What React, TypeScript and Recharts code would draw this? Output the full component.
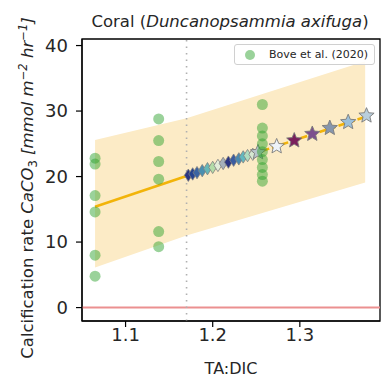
import React from 'react';
import {
  ComposedChart,
  XAxis,
  YAxis,
  Area,
  Line,
  Scatter,
  ReferenceLine,
  ReferenceArea,
  Cell,
} from 'recharts';

// ---- Data ----
const boveTA = [
  1.065, 1.065, 1.065, 1.065, 1.065, 1.065,
  1.138, 1.138, 1.138, 1.138, 1.138, 1.138,
  1.257, 1.257, 1.257, 1.257, 1.257, 1.257, 1.257, 1.257, 1.257,
];
const boveRate = [
  22.8, 21.9, 17.1, 14.6, 8.0, 4.8,
  28.8, 25.5, 22.3, 19.6, 11.6, 9.3,
  31.0, 27.4, 26.2, 25.0, 23.8, 22.6, 21.4, 20.3, 19.3,
];

const diamondTA = [
  1.172, 1.177, 1.182, 1.188, 1.194, 1.2, 1.206,
  1.212, 1.218, 1.224, 1.23, 1.235, 1.24, 1.246,
];
const diamondRate = [
  20.2, 20.4, 20.6, 20.9, 21.2, 21.4, 21.7,
  22.0, 22.2, 22.5, 22.7, 23.0, 23.2, 23.4,
];
const diamondColors = [
  '#2b3580', '#24438f', '#3a64a2', '#4a8fb0', '#66b8b8', '#b3dca8', '#e2ecd9',
  '#a6b0ba', '#2c3582', '#3a5ca0', '#4a8ab0', '#62b8bf', '#aedcc0', '#d6e8d2',
];

const starTA = [1.252, 1.2734, 1.2936, 1.3143, 1.3344, 1.3555, 1.3765];
const starRate = [23.7, 24.6, 25.5, 26.5, 27.4, 28.3, 29.3];
const starColors = ['#b8c4cc', '#eef3f8', '#7a1f5c', '#7b4f8e', '#8796ad', '#9cc0da', '#b9cedc'];

const bandTA = [1.065, 1.17, 1.375];
const bandLow = [6.1, 11.0, 19.1];
const bandHigh = [25.6, 28.9, 37.6];

const fitSolidTA = [1.065, 1.17];
const fitSolidRate = [15.4, 20.1];
const fitDashTA = [1.17, 1.375];
const fitDashRate = [20.1, 29.1];

const xTicks = [1.1, 1.2, 1.3];
const yTicks = [0, 10, 20, 30, 40];
const xDomain: [number, number] = [1.05, 1.392];
const yDomain: [number, number] = [-2.05, 41];
const thresholdTA = 1.17;

// ---- Derived tables ----
const boveData = boveTA.map((x, i) => ({ x, y: boveRate[i] }));
const diamondData = diamondTA.map((x, i) => ({ x, y: diamondRate[i] }));
const starData = starTA.map((x, i) => ({ x, y: starRate[i] }));
const bandData = bandTA.map((x, i) => ({ x, band: [bandLow[i], bandHigh[i]] }));
const fitSolid = fitSolidTA.map((x, i) => ({ x, y: fitSolidRate[i] }));
const fitDash = fitDashTA.map((x, i) => ({ x, y: fitDashRate[i] }));

const FONT = 'DejaVu Sans, sans-serif';

const DiamondShape = (p: any) => {
  const { cx, cy, fill } = p;
  if (cx == null || cy == null) return null;
  const h = 6.2;
  const w = 3.9;
  return (
    <polygon
      points={`${cx},${cy - h} ${cx + w},${cy} ${cx},${cy + h} ${cx - w},${cy}`}
      fill={fill}
      stroke="#808080"
      strokeWidth={0.8}
    />
  );
};

const StarShape = (p: any) => {
  const { cx, cy, fill } = p;
  if (cx == null || cy == null) return null;
  const R = 8;
  const r = 3.6;
  const pts: string[] = [];
  for (let k = 0; k < 10; k++) {
    const rad = k % 2 === 0 ? R : r;
    const a = -Math.PI / 2 + (k * Math.PI) / 5;
    pts.push(`${cx + rad * Math.cos(a)},${cy + rad * Math.sin(a)}`);
  }
  return <polygon points={pts.join(' ')} fill={fill} stroke="#7a7a7a" strokeWidth={0.9} />;
};

const DotShape = (p: any) => {
  const { cx, cy } = p;
  if (cx == null || cy == null) return null;
  return <circle cx={cx} cy={cy} r={5.5} fill="#2ca02c" fillOpacity={0.48} />;
};

export default function App() {
  return (
    <div style={{ position: 'absolute', left: 0, top: 0, width: 382, height: 383, background: '#fff', fontFamily: FONT }}>
      <ComposedChart
        width={382}
        height={383}
        data={bandData}
        margin={{ top: 39, right: 2, bottom: 22, left: 22 }}
      >
        <XAxis
          dataKey="x"
          type="number"
          domain={xDomain}
          ticks={xTicks}
          allowDataOverflow
          tickSize={6}
          tickMargin={1}
          height={40}
          tickFormatter={(v: number) => v.toFixed(1)}
          tick={{ fontSize: 18, fill: '#262626', fontFamily: FONT }}
          axisLine={{ stroke: '#000', strokeWidth: 1.2 }}
          tickLine={{ stroke: '#000', strokeWidth: 1.2 }}
        />
        <YAxis
          dataKey="y"
          type="number"
          domain={yDomain}
          ticks={yTicks}
          allowDataOverflow
          width={60}
          tickSize={6}
          tickMargin={8}
          tick={{ fontSize: 18, fill: '#262626', fontFamily: FONT }}
          axisLine={{ stroke: '#000', strokeWidth: 1.2 }}
          tickLine={{ stroke: '#000', strokeWidth: 1.2 }}
        />
        <Area
          dataKey="band"
          type="linear"
          stroke="none"
          fill="#fcebc6"
          fillOpacity={1}
          isAnimationActive={false}
        />
        <ReferenceLine y={0} stroke="#eb9090" strokeWidth={2} />
        <ReferenceLine x={thresholdTA} stroke="#b0b0b0" strokeWidth={1.6} strokeDasharray="1.5 5" />
        <Line
          data={fitSolid}
          dataKey="y"
          type="linear"
          stroke="#f2b40a"
          strokeWidth={2.6}
          dot={false}
          activeDot={false}
          isAnimationActive={false}
        />
        <Line
          data={fitDash}
          dataKey="y"
          type="linear"
          stroke="#f2b40a"
          strokeWidth={2.6}
          strokeDasharray="7 3"
          dot={false}
          activeDot={false}
          isAnimationActive={false}
        />
        <Scatter data={diamondData} shape={DiamondShape} isAnimationActive={false}>
          {diamondData.map((_, i) => (
            <Cell key={i} fill={diamondColors[i]} />
          ))}
        </Scatter>
        <Scatter data={starData} shape={StarShape} isAnimationActive={false}>
          {starData.map((_, i) => (
            <Cell key={i} fill={starColors[i]} />
          ))}
        </Scatter>
        <Scatter data={boveData} shape={DotShape} isAnimationActive={false} />
        <ReferenceArea
          x1={xDomain[0]}
          x2={xDomain[1]}
          y1={yDomain[0]}
          y2={yDomain[1]}
          fill="none"
          stroke="#000"
          strokeWidth={1.3}
          ifOverflow="visible"
        />
      </ComposedChart>

      {/* Title */}
      <div
        style={{
          position: 'absolute',
          left: 80,
          width: 300,
          top: 14,
          textAlign: 'center',
          fontSize: 16.5,
          lineHeight: '1',
          color: '#262626',
          whiteSpace: 'nowrap',
        }}
      >
        Coral (<i>Duncanopsammia axifuga</i>)
      </div>

      {/* X label */}
      <div
        style={{
          position: 'absolute',
          left: 131,
          width: 200,
          top: 360.5,
          textAlign: 'center',
          fontSize: 16,
          lineHeight: '1',
          color: '#262626',
        }}
      >
        TA:DIC
      </div>

      {/* Y label */}
      <div
        style={{
          position: 'absolute',
          left: 27.6 - 200,
          top: 187.5 - 10,
          width: 400,
          height: 20,
          lineHeight: '20px',
          textAlign: 'center',
          fontSize: 16.5,
          color: '#262626',
          whiteSpace: 'nowrap',
          transform: 'rotate(-90deg)',
          transformOrigin: 'center center',
        }}
      >
        Calcification rate <i>CaCO</i>
        <sub style={{ fontSize: '0.7em', lineHeight: 0 }}>3</sub>{' '}
        <i>[mmol m</i>
        <sup style={{ fontSize: '0.7em', lineHeight: 0 }}>
          <i>{'\u2212'}2</i>
        </sup>{' '}
        <i>hr</i>
        <sup style={{ fontSize: '0.7em', lineHeight: 0 }}>
          <i>{'\u2212'}1</i>
        </sup>
        <i>]</i>
      </div>

      {/* Legend */}
      <div
        style={{
          position: 'absolute',
          left: 234,
          top: 44,
          width: 141,
          height: 21,
          boxSizing: 'border-box',
          border: '1px solid #d0d0d0',
          borderRadius: 3,
          background: 'rgba(255,255,255,0.85)',
        }}
      >
        <svg width={20} height={20} style={{ position: 'absolute', left: 5, top: 0 }}>
          <circle cx={10} cy={10} r={5} fill="#2ca02c" fillOpacity={0.48} />
        </svg>
        <div
          style={{
            position: 'absolute',
            left: 34,
            top: 0,
            height: 19,
            lineHeight: '19px',
            fontSize: 11,
            color: '#262626',
            whiteSpace: 'nowrap',
          }}
        >
          Bove et al. (2020)
        </div>
      </div>
    </div>
  );
}
